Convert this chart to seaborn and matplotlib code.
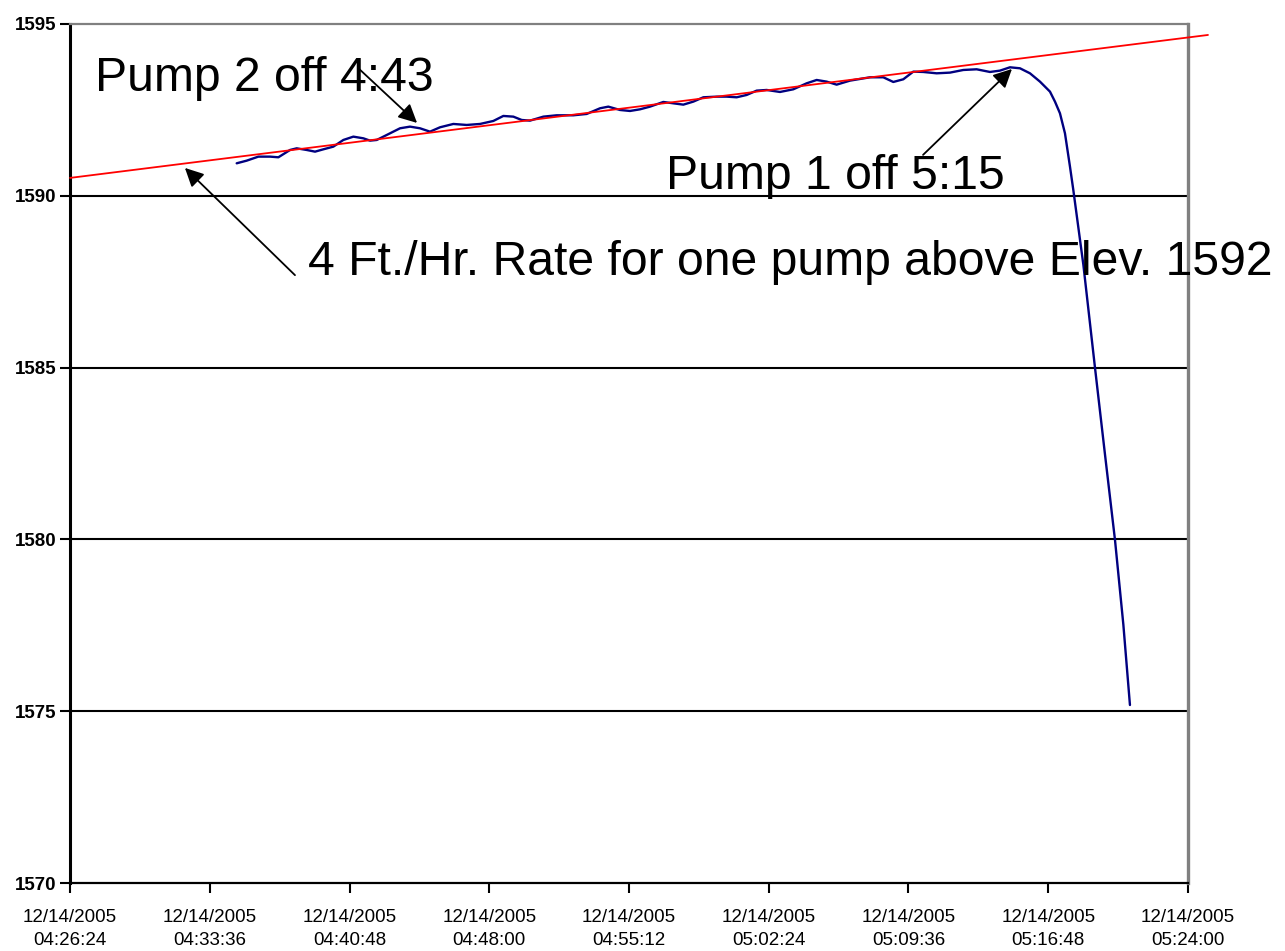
import pandas as pd
import numpy as np
import matplotlib
matplotlib.use("Agg")
import matplotlib.pyplot as plt
import matplotlib.dates as mdates
import seaborn as sns

# -------------------------------
# DATA
# times are minutes past 04:00 on 12/14/2005

day = pd.Timestamp("2005-12-14 04:00:00")

level_minutes = [
    34.987, 35.502, 36.103, 36.704, 37.134, 37.735, 38.078, 38.593, 39.023,
    39.452, 39.967, 40.482, 40.998, 41.513, 41.856, 42.200, 42.715, 43.402,
    43.917, 44.432, 44.947, 45.463, 46.149, 46.836, 47.523, 48.210, 48.725,
    49.241, 49.670, 50.099, 50.786, 51.473, 52.332, 53.019, 53.706, 54.135,
    54.736, 55.251, 55.766, 56.281, 56.968, 57.483, 57.998, 58.514, 59.029,
    59.716, 60.231, 60.746, 61.261, 61.777, 62.292, 62.979, 63.666, 64.353,
    64.868, 65.383, 65.898, 66.585, 67.615, 68.302, 68.817, 69.333, 69.848,
    70.363, 71.050, 71.737, 72.424, 73.111, 73.798, 74.313, 74.828, 75.344,
    75.859, 76.374, 76.889, 77.147, 77.404, 77.662, 77.920, 78.092, 78.610,
    79.210, 79.720, 80.240, 80.670, 81.010,
]
level_elev = [
    1590.945, 1591.022, 1591.139, 1591.139, 1591.120, 1591.333, 1591.381,
    1591.333, 1591.284, 1591.352, 1591.430, 1591.624, 1591.721, 1591.672,
    1591.605, 1591.624, 1591.769, 1591.964, 1592.012, 1591.964, 1591.866,
    1591.993, 1592.090, 1592.061, 1592.090, 1592.177, 1592.323, 1592.303,
    1592.206, 1592.187, 1592.303, 1592.342, 1592.342, 1592.381, 1592.546,
    1592.594, 1592.497, 1592.468, 1592.516, 1592.594, 1592.730, 1592.691,
    1592.652, 1592.740, 1592.866, 1592.885, 1592.885, 1592.866, 1592.934,
    1593.060, 1593.079, 1593.021, 1593.099, 1593.273, 1593.370, 1593.322,
    1593.234, 1593.351, 1593.448, 1593.448, 1593.312, 1593.390, 1593.613,
    1593.603, 1593.564, 1593.584, 1593.661, 1593.681, 1593.603, 1593.642,
    1593.739, 1593.710, 1593.564, 1593.322, 1593.031, 1592.740, 1592.400,
    1591.818, 1590.848, 1590.169, 1587.990, 1584.990, 1582.490, 1579.980,
    1577.520, 1575.180,
]

rate_minutes = [26.4, 85.03]
rate_elev = [1590.52, 1594.68]

tick_start = "04:26:24"
tick_end = "05:24:00"
tick_step = "432s"
y_ticks = [1570, 1575, 1580, 1585, 1590, 1595]
grid_levels = [1575, 1580, 1585, 1590]

# annotation texts: (text, minutes, elevation at baseline)
labels = [
    ("Pump 2 off 4:43", 27.69, 1593.05),
    ("Pump 1 off 5:15", 57.11, 1590.20),
    ("4 Ft./Hr. Rate for one pump above Elev. 1592", 38.66, 1587.69),
]
# arrows: (tail minutes, tail elev, head minutes, head elev)
arrows = [
    (41.24, 1593.72, 44.28, 1592.12),
    (70.35, 1591.19, 74.93, 1593.69),
    (37.99, 1587.69, 32.32, 1590.81),
]


def to_time(minutes):
    return day + pd.to_timedelta(minutes, unit="min")


df = pd.DataFrame({"time": to_time(pd.Series(level_minutes)), "elev": level_elev})
rate = pd.DataFrame({"time": to_time(pd.Series(rate_minutes)), "elev": rate_elev})

# -------------------------------
# PLOT

sns.set_theme(style="white")
plt.rcParams['font.family'] = ['Liberation Sans', 'DejaVu Sans']

fig = plt.figure(figsize=(12.85, 9.51), dpi=100)
ax = fig.add_axes([0.0545, 0.0715, 0.8700, 0.9033])

for g in grid_levels:
    ax.axhline(g, color="black", lw=1.5, zorder=1)

sns.lineplot(data=df, x="time", y="elev", ax=ax, color="#000080", lw=1.7,
             zorder=3, estimator=None, sort=False)
sns.lineplot(data=rate, x="time", y="elev", ax=ax, color="red", lw=1.3,
             zorder=4, clip_on=False, estimator=None)

xmin = pd.Timestamp("2005-12-14 " + tick_start)
xmax = pd.Timestamp("2005-12-14 " + tick_end)
ax.set_xlim(xmin, xmax)
ax.set_ylim(y_ticks[0], y_ticks[-1])
ax.set_xticks(pd.date_range(xmin, xmax, freq=tick_step))
ax.xaxis.set_major_formatter(mdates.DateFormatter("%m/%d/%Y\n%H:%M:%S"))
ax.set_yticks(y_ticks)
ax.set_xlabel("")
ax.set_ylabel("")

for lab in ax.get_xticklabels():
    lab.set_fontsize(13.5)
    lab.set_linespacing(1.45)
for lab in ax.get_yticklabels():
    lab.set_fontsize(13.5)
    lab.set_fontweight("bold")

ax.tick_params(axis="both", direction="out", length=7, width=1.5,
               color="black", labelcolor="black", bottom=True, left=True)
ax.tick_params(axis="x", pad=12)
ax.tick_params(axis="y", pad=3)

ax.spines["left"].set_color("black")
ax.spines["left"].set_linewidth(2.2)
ax.spines["bottom"].set_color("black")
ax.spines["bottom"].set_linewidth(1.6)
ax.spines["top"].set_color("#808080")
ax.spines["top"].set_linewidth(1.6)
ax.spines["right"].set_color("#808080")
ax.spines["right"].set_linewidth(2.4)

if ax.get_legend() is not None:
    ax.get_legend().remove()

for txt, m, v in labels:
    ax.text(to_time(m), v, txt, fontsize=34.7, color="black",
            ha="left", va="baseline", zorder=6, clip_on=False)

for m0, v0, m1, v1 in arrows:
    ax.annotate("", xy=(to_time(m1), v1), xytext=(to_time(m0), v0),
                arrowprops=dict(arrowstyle="-|>", color="black", lw=1.3,
                                mutation_scale=28, shrinkA=0, shrinkB=0),
                zorder=7)

plt.savefig("out.png", dpi=100)
